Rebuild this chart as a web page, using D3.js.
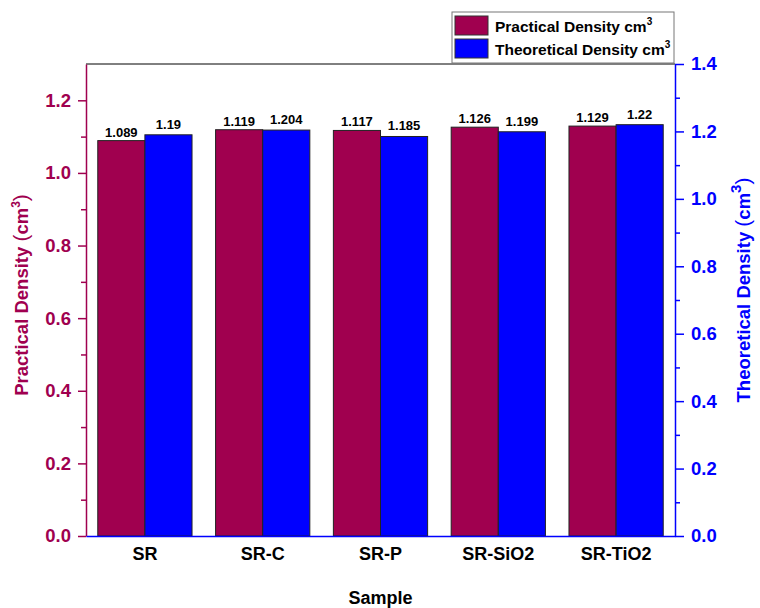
<!DOCTYPE html>
<html>
<head>
<meta charset="utf-8">
<script src="https://cdn.jsdelivr.net/npm/d3@7"></script>
<style>
  body { margin: 0; background: #fff; }
  svg text { font-family: "Liberation Sans", Arial, sans-serif; font-weight: bold; }
</style>
</head>
<body>
<div id="wrapper"></div>
<script>
const samples = ["SR", "SR-C", "SR-P", "SR-SiO2", "SR-TiO2"]
const practical = [1.089, 1.119, 1.117, 1.126, 1.129]
const theoretical = [1.19, 1.204, 1.185, 1.199, 1.22]
const leftTicks = [0, 0.2, 0.4, 0.6, 0.8, 1.0, 1.2]
const rightTicks = [0, 0.2, 0.4, 0.6, 0.8, 1.0, 1.2, 1.4]

const red = "#A0004F"
const blue = "#0000FF"

const dimensions = {
  width: 760,
  height: 608,
  margin: { top: 64, right: 85, bottom: 72, left: 86 },
}
dimensions.boundedWidth = dimensions.width - dimensions.margin.left - dimensions.margin.right
dimensions.boundedHeight = dimensions.height - dimensions.margin.top - dimensions.margin.bottom

const wrapper = d3.select("#wrapper")
  .append("svg")
  .attr("width", dimensions.width)
  .attr("height", dimensions.height)

const bounds = wrapper.append("g")
  .attr("transform", `translate(${dimensions.margin.left},${dimensions.margin.top})`)

// scales
const xScale = d3.scaleBand()
  .domain(samples)
  .range([0, dimensions.boundedWidth])
  .paddingInner(0.2)
  .paddingOuter(0.1)

const innerScale = d3.scaleBand()
  .domain(["p", "t"])
  .range([0, xScale.bandwidth()])

const yLeft = d3.scaleLinear().domain([0, 1.3]).range([dimensions.boundedHeight, 0])
const yRight = d3.scaleLinear().domain([0, 1.4]).range([dimensions.boundedHeight, 0])

// bars
const groups = bounds.selectAll(".grp")
  .data(samples)
  .enter().append("g")
  .attr("transform", d => `translate(${xScale(d)},0)`)

groups.append("rect")
  .attr("x", innerScale("p"))
  .attr("width", innerScale.bandwidth())
  .attr("y", (d, i) => yLeft(practical[i]))
  .attr("height", (d, i) => dimensions.boundedHeight - yLeft(practical[i]))
  .attr("fill", red)
  .attr("stroke", "#222")
  .attr("stroke-width", 1)

groups.append("rect")
  .attr("x", innerScale("t"))
  .attr("width", innerScale.bandwidth())
  .attr("y", (d, i) => yRight(theoretical[i]))
  .attr("height", (d, i) => dimensions.boundedHeight - yRight(theoretical[i]))
  .attr("fill", blue)
  .attr("stroke", "#222")
  .attr("stroke-width", 1)

groups.append("text")
  .attr("x", innerScale("p") + innerScale.bandwidth() / 2)
  .attr("y", (d, i) => yLeft(practical[i]) - 4)
  .attr("text-anchor", "middle")
  .style("font-size", "13px")
  .text((d, i) => practical[i])

groups.append("text")
  .attr("x", innerScale("t") + innerScale.bandwidth() / 2)
  .attr("y", (d, i) => yRight(theoretical[i]) - 6)
  .attr("text-anchor", "middle")
  .style("font-size", "13px")
  .text((d, i) => theoretical[i])

// top frame line
bounds.append("line")
  .attr("x1", 0).attr("x2", dimensions.boundedWidth)
  .attr("y1", 0).attr("y2", 0)
  .attr("stroke", "#000")

// left axis
const leftMinor = bounds.append("g").call(
  d3.axisLeft(yLeft).tickValues(d3.range(0.1, 1.3, 0.2)).tickSize(5).tickFormat(""))
leftMinor.selectAll("path").remove()
leftMinor.selectAll("line").attr("stroke", red).attr("stroke-width", 1.5)

const leftAxis = bounds.append("g")
  .call(d3.axisLeft(yLeft).tickValues(leftTicks).tickSize(8).tickSizeOuter(0).tickPadding(7).tickFormat(d3.format(".1f")))
leftAxis.select(".domain").attr("stroke", red).attr("stroke-width", 1.5)
leftAxis.selectAll("line").attr("stroke", red).attr("stroke-width", 1.5)
leftAxis.selectAll("text").attr("fill", red).style("font-size", "18.5px")

// right axis
const rightMinor = bounds.append("g")
  .attr("transform", `translate(${dimensions.boundedWidth},0)`)
  .call(d3.axisRight(yRight).tickValues(d3.range(0.1, 1.4, 0.2)).tickSize(5).tickFormat(""))
rightMinor.selectAll("path").remove()
rightMinor.selectAll("line").attr("stroke", blue).attr("stroke-width", 1.5)

const rightAxis = bounds.append("g")
  .attr("transform", `translate(${dimensions.boundedWidth},0)`)
  .call(d3.axisRight(yRight).tickValues(rightTicks).tickSize(9).tickSizeOuter(0).tickPadding(7).tickFormat(d3.format(".1f")))
rightAxis.select(".domain").attr("stroke", blue).attr("stroke-width", 1.5)
rightAxis.selectAll("line").attr("stroke", blue).attr("stroke-width", 1.5)
rightAxis.selectAll("text").attr("fill", blue).style("font-size", "18.5px")

// bottom axis
const xAxis = bounds.append("g")
  .attr("transform", `translate(0,${dimensions.boundedHeight})`)
  .call(d3.axisBottom(xScale).tickSize(0).tickSizeOuter(0).tickPadding(11))
xAxis.select(".domain").attr("stroke", blue).attr("stroke-width", 1.5)
xAxis.selectAll("text").attr("fill", "#000").style("font-size", "18px")

// axis titles
wrapper.append("text")
  .attr("x", (dimensions.margin.left + dimensions.width - dimensions.margin.right) / 2)
  .attr("y", 604)
  .attr("text-anchor", "middle")
  .style("font-size", "18px")
  .text("Sample")

const yMid = dimensions.margin.top + dimensions.boundedHeight / 2

const leftTitle = wrapper.append("text")
  .attr("transform", `translate(28,${yMid - 5}) rotate(-90)`)
  .attr("text-anchor", "middle")
  .attr("fill", red)
  .style("font-size", "18.5px")
leftTitle.append("tspan").text("Practical Density ")
leftTitle.append("tspan").style("font-weight", "normal").style("font-size", "21px").text("(")
leftTitle.append("tspan").text("cm")
leftTitle.append("tspan").attr("dy", -8).style("font-size", "12px").text("3")
leftTitle.append("tspan").attr("dy", 8).style("font-weight", "normal").style("font-size", "21px").text(")")

const rightTitle = wrapper.append("text")
  .attr("transform", `translate(750,${yMid - 10}) rotate(-90)`)
  .attr("text-anchor", "middle")
  .attr("fill", blue)
  .style("font-size", "18.5px")
rightTitle.append("tspan").text("Theoretical Density ")
rightTitle.append("tspan").style("font-weight", "normal").style("font-size", "21px").text("(")
rightTitle.append("tspan").text("cm")
rightTitle.append("tspan").attr("dy", -9).style("font-size", "15px").text("3")
rightTitle.append("tspan").attr("dy", 9).style("font-weight", "normal").style("font-size", "21px").text(")")

// legend
const legend = wrapper.append("g").attr("transform", "translate(452,12)")
legend.append("rect")
  .attr("width", 222).attr("height", 51)
  .attr("fill", "#fff").attr("stroke", "#777")

const legendItems = [
  { label: "Practical Density cm", color: red },
  { label: "Theoretical Density cm", color: blue },
]
const li = legend.selectAll(".li")
  .data(legendItems)
  .enter().append("g")
  .attr("transform", (d, i) => `translate(3,${4 + i * 23})`)
li.append("rect")
  .attr("width", 33).attr("height", 19)
  .attr("fill", d => d.color).attr("stroke", "#333")
const lt = li.append("text")
  .attr("x", 40).attr("y", 16)
  .style("font-size", "15.5px")
lt.append("tspan").text(d => d.label)
lt.append("tspan").attr("dy", -7).style("font-size", "10px").text("3")
</script>
</body>
</html>
